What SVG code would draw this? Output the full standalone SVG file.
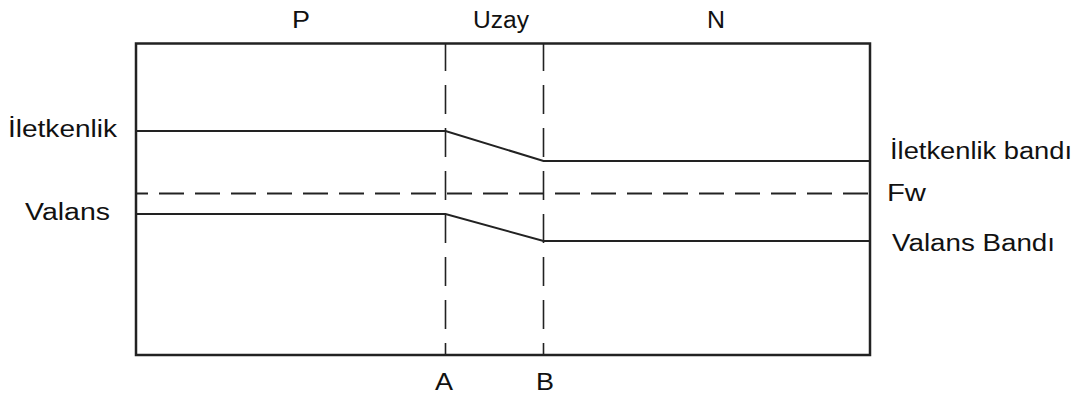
<svg xmlns="http://www.w3.org/2000/svg" width="1081" height="399" viewBox="0 0 1081 399">
<style>
  text { font-family: "Liberation Sans", Arial, sans-serif; fill: #111; }
  .lbl { font-size: 23px; }
  .big { font-size: 24px; }
  .frame { fill: none; stroke: #222; stroke-width: 2.5; }
  .band { fill: none; stroke: #222; stroke-width: 2; }
  .vdash { fill: none; stroke: #222; stroke-width: 1.6; stroke-dasharray: 29 14; stroke-dashoffset: 2; }
  .hdash { fill: none; stroke: #222; stroke-width: 2.2; stroke-dasharray: 25 11; stroke-dashoffset: 13; }
</style>
<rect width="1081" height="399" fill="#fff"/>
<g id="frame">
  <rect class="frame" x="136" y="43.5" width="734" height="311.5"/>
</g>
<g id="connectors">
  <line id="boundary-A" class="vdash" x1="445.5" y1="44" x2="445.5" y2="355"/>
  <line id="boundary-B" class="vdash" x1="543.5" y1="44" x2="543.5" y2="355"/>
  <polyline id="conduction-band" class="band" points="136,131 445.5,131 543.5,161 870,161"/>
  <line id="fermi-level" class="hdash" x1="136" y1="193.5" x2="870" y2="193.5"/>
  <polyline id="valence-band" class="band" points="136,214 445.5,214 543.5,241 870,241"/>
</g>
<g id="label-P"><text class="lbl" x="292" y="28" textLength="18" lengthAdjust="spacingAndGlyphs">P</text></g>
<g id="label-Uzay"><text class="lbl" x="473" y="28" textLength="56" lengthAdjust="spacingAndGlyphs">Uzay</text></g>
<g id="label-N"><text class="lbl" x="707" y="28" textLength="18" lengthAdjust="spacingAndGlyphs">N</text></g>
<g id="label-iletkenlik"><text class="lbl" x="8" y="137" textLength="109" lengthAdjust="spacingAndGlyphs">İletkenlik</text></g>
<g id="label-valans"><text class="lbl" x="25" y="220" textLength="85" lengthAdjust="spacingAndGlyphs">Valans</text></g>
<g id="label-iletkenlik-bandi"><text class="lbl" x="890" y="159" textLength="182" lengthAdjust="spacingAndGlyphs">İletkenlik bandı</text></g>
<g id="label-fw"><text class="lbl" x="887" y="201" textLength="39" lengthAdjust="spacingAndGlyphs">Fw</text></g>
<g id="label-valans-bandi"><text class="lbl" x="892" y="251" textLength="163" lengthAdjust="spacingAndGlyphs">Valans Bandı</text></g>
<g id="label-A"><text class="big" x="435" y="390" textLength="18" lengthAdjust="spacingAndGlyphs">A</text></g>
<g id="label-B"><text class="big" x="536" y="390" textLength="18" lengthAdjust="spacingAndGlyphs">B</text></g>
</svg>
